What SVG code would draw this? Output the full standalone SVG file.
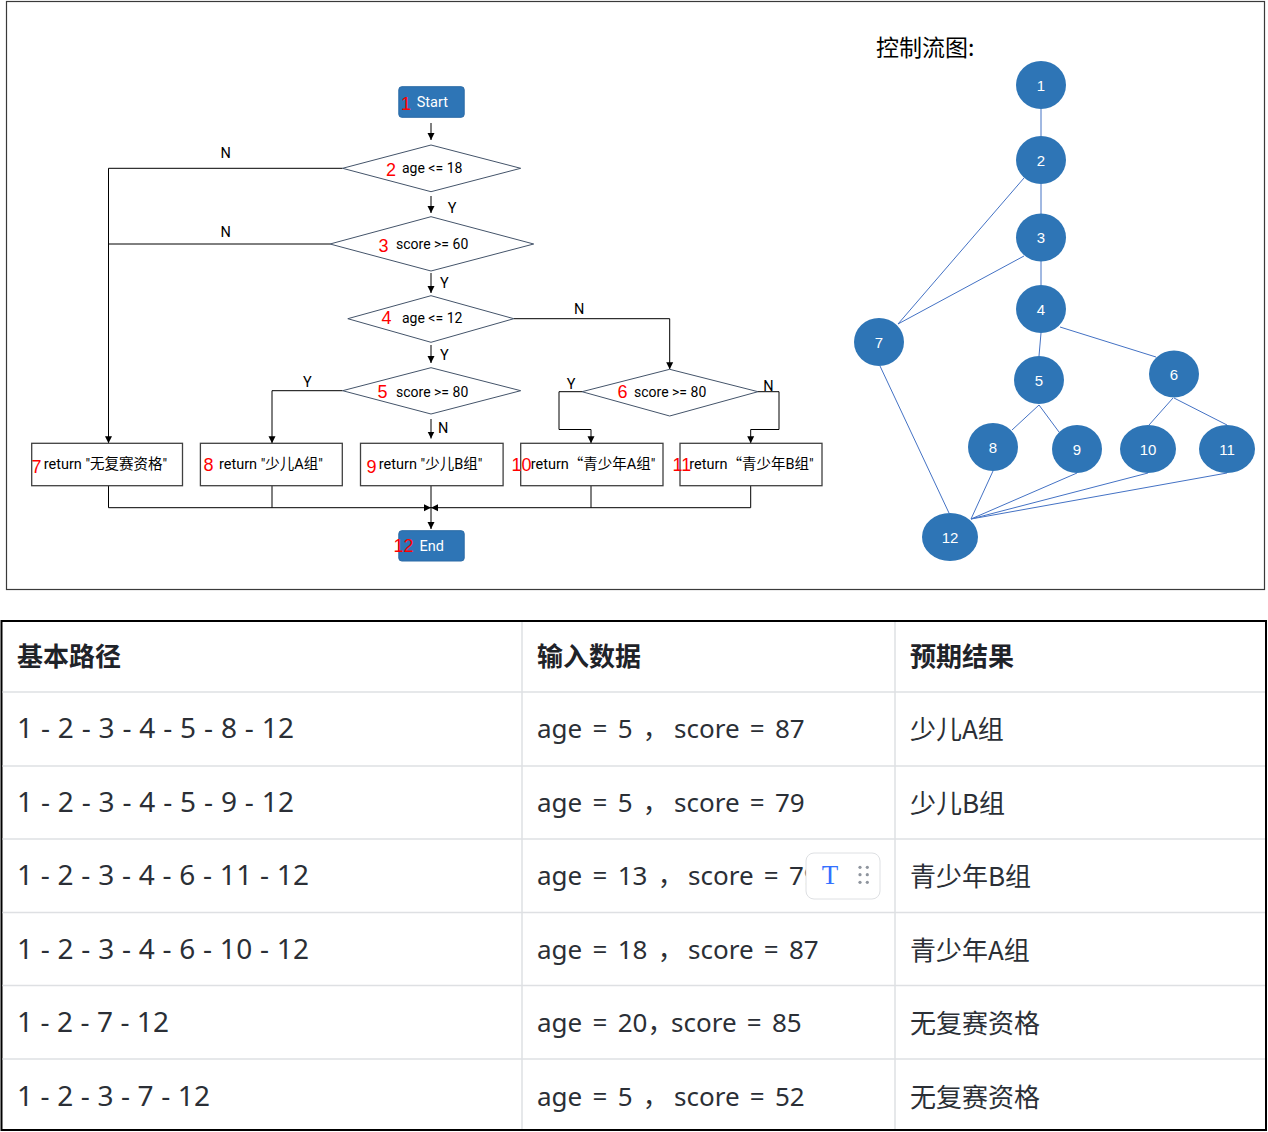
<svg xmlns="http://www.w3.org/2000/svg" width="1268" height="1132" viewBox="0 0 1268 1132">
<defs>
<marker id="ah" markerUnits="userSpaceOnUse" markerWidth="8" markerHeight="8" refX="7" refY="4" orient="auto"><path d="M0,0.5 L7,4 L0,7.5 z" fill="#000"/></marker>
<style>
.fc{font-family:Roboto,"Noto Sans CJK SC",sans-serif;font-size:14.5px;fill:#000}
.fd{font-family:Roboto,"Noto Sans CJK SC",sans-serif;font-size:14px;fill:#000}
.cq{font-family:"Noto Sans CJK SC",sans-serif}
.num{font-family:"Liberation Sans","Noto Sans",sans-serif;font-size:18px;fill:#ff0000}
.lbl{font-family:Roboto,"Liberation Sans",sans-serif;font-size:14.5px;fill:#000}
.term{fill:#2e75b6;stroke:#2a6aa6;stroke-width:1}
.dia{fill:#fff;stroke:#44546a;stroke-width:1}
.box{fill:#fff;stroke:#404040;stroke-width:1.3}
.wt{font-family:Roboto,"Liberation Sans",sans-serif;font-size:14.5px;fill:#fff}
.cn{fill:none;stroke:#000;stroke-width:1}
.ce{stroke:#4472c4;stroke-width:1}
.cf{fill:#2e75b6}
.ct{font-family:"Liberation Sans",Arial,sans-serif;font-size:15px;fill:#fff;text-anchor:middle}
.th{font-family:"Noto Sans CJK SC",sans-serif;font-size:26px;font-weight:700;fill:#1f2329}
.td{font-family:"Noto Sans","Noto Sans CJK SC",sans-serif;font-size:26px;word-spacing:3.5px;fill:#2b2f36}
.d1{font-family:"Noto Sans","Noto Sans CJK SC",sans-serif;font-size:28px;fill:#2b2f36}
.tc{font-family:"Noto Sans CJK SC",sans-serif;font-size:26px;fill:#2b2f36}
.rl{stroke:#dee0e3;stroke-width:1.5}
</style>
</defs>
<rect x="0" y="0" width="1268" height="1132" fill="#fff"/>
<rect x="6.5" y="1.5" width="1258" height="588" fill="#fff" stroke="#3a3a3a" stroke-width="1.2"/>

<!-- flowchart connectors -->
<g id="connectors">
<line class="cn" x1="431" y1="123" x2="431" y2="140" marker-end="url(#ah)"/>
<line class="cn" x1="431" y1="196" x2="431" y2="213" marker-end="url(#ah)"/>
<line class="cn" x1="431" y1="273" x2="431" y2="293" marker-end="url(#ah)"/>
<line class="cn" x1="431" y1="345" x2="431" y2="363" marker-end="url(#ah)"/>
<line class="cn" x1="431" y1="419" x2="431" y2="438.5" marker-end="url(#ah)"/>
<polyline class="cn" points="342.6,168.3 108.5,168.3 108.5,443.3" marker-end="url(#ah)"/>
<line class="cn" x1="330" y1="244" x2="108.5" y2="244"/>
<polyline class="cn" points="513.8,318.7 669.7,318.7 669.7,369.3" marker-end="url(#ah)"/>
<polyline class="cn" points="342.6,390.7 272,390.7 272,443.3" marker-end="url(#ah)"/>
<polyline class="cn" points="582,391.7 559,391.7 559,429.5 591,429.5 591,443.3" marker-end="url(#ah)"/>
<polyline class="cn" points="758,391.7 779,391.7 779,429.5 750.7,429.5 750.7,443.3" marker-end="url(#ah)"/>
<line class="cn" x1="108.5" y1="485.7" x2="108.5" y2="507.7"/>
<line class="cn" x1="272" y1="485.7" x2="272" y2="507.7"/>
<line class="cn" x1="591" y1="485.7" x2="591" y2="507.7"/>
<line class="cn" x1="750.7" y1="485.7" x2="750.7" y2="507.7"/>
<line class="cn" x1="108.5" y1="507.7" x2="431" y2="507.7" marker-end="url(#ah)"/>
<line class="cn" x1="750.7" y1="507.7" x2="431" y2="507.7" marker-end="url(#ah)"/>
<line class="cn" x1="431" y1="485.7" x2="431" y2="529" marker-end="url(#ah)"/>
<text class="lbl" x="220.4" y="158">N</text>
<text class="lbl" x="220.4" y="236.7">N</text>
<text class="lbl" x="447.7" y="213.3">Y</text>
<text class="lbl" x="440" y="288.3">Y</text>
<text class="lbl" x="574" y="314">N</text>
<text class="lbl" x="440" y="360">Y</text>
<text class="lbl" x="303" y="387">Y</text>
<text class="lbl" x="438" y="433.3">N</text>
<text class="lbl" x="566.7" y="389">Y</text>
<text class="lbl" x="763.3" y="390.7">N</text>
</g>

<g id="n1">
<rect class="term" x="398.8" y="86.7" width="65.4" height="30.6" rx="3"/>
<text class="num" x="401" y="110">1</text>
<text class="wt" x="416.7" y="106.5">Start</text>
</g>
<g id="n2">
<polygon class="dia" points="431,145 520.7,168.3 431,191.7 342.6,168.3"/>
<text class="num" x="386" y="176">2</text>
<text class="fd" x="402" y="172.7">age &lt;= 18</text>
</g>
<g id="n3">
<polygon class="dia" points="431,216.7 533.7,244 431,271 330,244"/>
<text class="num" x="378.5" y="251.7">3</text>
<text class="fd" x="396" y="249.3">score &gt;= 60</text>
</g>
<g id="n4">
<polygon class="dia" points="431,295.7 513.8,318.7 431,342.3 347.8,318.7"/>
<text class="num" x="381.5" y="324">4</text>
<text class="fd" x="402" y="323.3">age &lt;= 12</text>
</g>
<g id="n5">
<polygon class="dia" points="431,367.7 520.7,390.7 431,414 342.6,390.7"/>
<text class="num" x="377.5" y="398">5</text>
<text class="fd" x="396" y="396.7">score &gt;= 80</text>
</g>
<g id="n6">
<polygon class="dia" points="669.7,369.3 758,391.7 669.7,416 582,391.7"/>
<text class="num" x="617.5" y="398">6</text>
<text class="fd" x="634" y="396.5">score &gt;= 80</text>
</g>
<g id="n7">
<rect class="box" x="31.7" y="443.3" width="150.8" height="42.4"/>
<text class="num" x="31.5" y="472.7">7</text>
<text class="fc" x="43.7" y="469">return "无复赛资格"</text>
</g>
<g id="n8">
<rect class="box" x="200.4" y="443.3" width="141.9" height="42.4"/>
<text class="num" x="203.5" y="470.5">8</text>
<text class="fc" x="219" y="469">return "少儿A组"</text>
</g>
<g id="n9">
<rect class="box" x="360.5" y="443.3" width="142.6" height="42.4"/>
<text class="num" x="366.5" y="473">9</text>
<text class="fc" x="378.8" y="469">return "少儿B组"</text>
</g>
<g id="n10">
<rect class="box" x="520.7" y="443.3" width="142.3" height="42.4"/>
<text class="num" x="511.5" y="470.7">10</text>
<text class="fc" x="530.7" y="469">return<tspan class="cq">“</tspan>青少年A组"</text>
</g>
<g id="n11">
<rect class="box" x="680" y="443.3" width="142" height="42.4"/>
<text class="num" x="672.5" y="470.7">11</text>
<text class="fc" x="689.3" y="469">return<tspan class="cq">“</tspan>青少年B组"</text>
</g>
<g id="n12">
<rect class="term" x="398.8" y="530.7" width="65.4" height="30.3" rx="3"/>
<text class="num" x="393.5" y="551.7">12</text>
<text class="wt" x="419.4" y="550.5">End</text>
</g>

<!-- control flow graph -->
<text x="876" y="56" style="font-family:'Noto Sans CJK SC',sans-serif;font-size:23px;fill:#000">控制流图:</text>
<g id="cfg-edges">
<line class="ce" x1="1041" y1="109" x2="1041" y2="136"/>
<line class="ce" x1="1041" y1="184" x2="1041" y2="214"/>
<line class="ce" x1="1041" y1="261" x2="1041" y2="285"/>
<line class="ce" x1="1041" y1="333" x2="1039" y2="356"/>
<line class="ce" x1="1060" y1="327" x2="1156" y2="357"/>
<line class="ce" x1="1024" y1="178" x2="898" y2="324"/>
<line class="ce" x1="1024" y1="256" x2="898" y2="324"/>
<line class="ce" x1="1039" y1="405" x2="1012" y2="430"/>
<line class="ce" x1="1039" y1="405" x2="1059" y2="432"/>
<line class="ce" x1="1173" y1="398" x2="1149" y2="425"/>
<line class="ce" x1="1174" y1="398" x2="1227" y2="425"/>
<line class="ce" x1="880" y1="366" x2="949" y2="513"/>
<line class="ce" x1="993" y1="471" x2="971" y2="519"/>
<line class="ce" x1="1077" y1="473" x2="971" y2="519"/>
<line class="ce" x1="1148" y1="473" x2="971" y2="519"/>
<line class="ce" x1="1227" y1="473" x2="971" y2="519"/>
</g>
<g id="c1"><ellipse class="cf" cx="1041" cy="85" rx="25" ry="24"/><text class="ct" x="1041" y="90.5">1</text></g>
<g id="c2"><ellipse class="cf" cx="1041" cy="160" rx="25" ry="24"/><text class="ct" x="1041" y="165.5">2</text></g>
<g id="c3"><ellipse class="cf" cx="1041" cy="237.5" rx="25" ry="24"/><text class="ct" x="1041" y="243">3</text></g>
<g id="c4"><ellipse class="cf" cx="1041" cy="309" rx="25" ry="24"/><text class="ct" x="1041" y="314.5">4</text></g>
<g id="c5"><ellipse class="cf" cx="1039" cy="380" rx="25" ry="24"/><text class="ct" x="1039" y="385.5">5</text></g>
<g id="c6"><ellipse class="cf" cx="1174" cy="374" rx="25" ry="23.5"/><text class="ct" x="1174" y="379.5">6</text></g>
<g id="c7"><ellipse class="cf" cx="879" cy="342" rx="25" ry="24"/><text class="ct" x="879" y="347.5">7</text></g>
<g id="c8"><ellipse class="cf" cx="993" cy="447" rx="25" ry="24"/><text class="ct" x="993" y="452.5">8</text></g>
<g id="c9"><ellipse class="cf" cx="1077" cy="449" rx="25" ry="24"/><text class="ct" x="1077" y="454.5">9</text></g>
<g id="c10"><ellipse class="cf" cx="1148" cy="449" rx="28" ry="24"/><text class="ct" x="1148" y="454.5">10</text></g>
<g id="c11"><ellipse class="cf" cx="1227" cy="449" rx="28" ry="24"/><text class="ct" x="1227" y="454.5">11</text></g>
<g id="c12"><ellipse class="cf" cx="950" cy="537" rx="28" ry="24"/><text class="ct" x="950" y="542.5">12</text></g>

<!-- table -->
<g id="table">
<rect x="1.5" y="621" width="1264.5" height="509" fill="#fff" stroke="#000" stroke-width="2"/>
<line class="rl" x1="2.5" y1="692" x2="1265" y2="692"/>
<line class="rl" x1="2.5" y1="766" x2="1265" y2="766"/>
<line class="rl" x1="2.5" y1="839" x2="1265" y2="839"/>
<line class="rl" x1="2.5" y1="912.5" x2="1265" y2="912.5"/>
<line class="rl" x1="2.5" y1="985.5" x2="1265" y2="985.5"/>
<line class="rl" x1="2.5" y1="1059" x2="1265" y2="1059"/>
<line class="rl" x1="522" y1="622" x2="522" y2="1129"/>
<line class="rl" x1="895" y1="622" x2="895" y2="1129"/>

<text class="th" x="17" y="666">基本路径</text>
<text class="th" x="537" y="666">输入数据</text>
<text class="th" x="910" y="666">预期结果</text>

<text class="d1" x="17" y="738" textLength="277" lengthAdjust="spacing">1 - 2 - 3 - 4 - 5 - 8 - 12</text>
<text class="d1" x="17" y="811.5" textLength="277" lengthAdjust="spacing">1 - 2 - 3 - 4 - 5 - 9 - 12</text>
<text class="d1" x="17" y="885" textLength="292" lengthAdjust="spacing">1 - 2 - 3 - 4 - 6 - 11 - 12</text>
<text class="d1" x="17" y="959" textLength="292" lengthAdjust="spacing">1 - 2 - 3 - 4 - 6 - 10 - 12</text>
<text class="d1" x="17" y="1032" textLength="152" lengthAdjust="spacing">1 - 2 - 7 - 12</text>
<text class="d1" x="17" y="1106" textLength="193" lengthAdjust="spacing">1 - 2 - 3 - 7 - 12</text>

<text class="td" x="537" y="738">age = 5 ，</text><text class="td" x="674" y="738">score = 87</text>
<text class="td" x="537" y="811.5">age = 5 ，</text><text class="td" x="674" y="811.5">score = 79</text>
<text class="td" x="537" y="885">age = 13 ，</text><text class="td" x="688" y="885">score = 79</text>
<text class="td" x="537" y="959">age = 18 ，</text><text class="td" x="688" y="959">score = 87</text>
<text class="td" x="537" y="1032">age = 20，</text><text class="td" x="671" y="1032">score = 85</text>
<text class="td" x="537" y="1106">age = 5 ，</text><text class="td" x="674" y="1106">score = 52</text>

<text class="tc" x="910" y="739">少儿A组</text>
<text class="tc" x="910" y="812.5">少儿B组</text>
<text class="tc" x="910" y="886">青少年B组</text>
<text class="tc" x="910" y="960">青少年A组</text>
<text class="tc" x="910" y="1033">无复赛资格</text>
<text class="tc" x="910" y="1107">无复赛资格</text>
</g>

<g id="toolbar">
<rect x="806" y="853" width="74" height="46" rx="8" fill="#fff" stroke="#dee0e3" stroke-width="1"/>
<text x="830" y="883.5" text-anchor="middle" style="font-family:'Liberation Serif',serif;font-size:27px;fill:#3370ff">T</text>
<circle cx="860" cy="867.3" r="1.6" fill="#8f959e"/><circle cx="867.3" cy="867.3" r="1.6" fill="#8f959e"/>
<circle cx="860" cy="874.7" r="1.6" fill="#8f959e"/><circle cx="867.3" cy="874.7" r="1.6" fill="#8f959e"/>
<circle cx="860" cy="882.3" r="1.6" fill="#8f959e"/><circle cx="867.3" cy="882.3" r="1.6" fill="#8f959e"/>
</g>
</svg>
